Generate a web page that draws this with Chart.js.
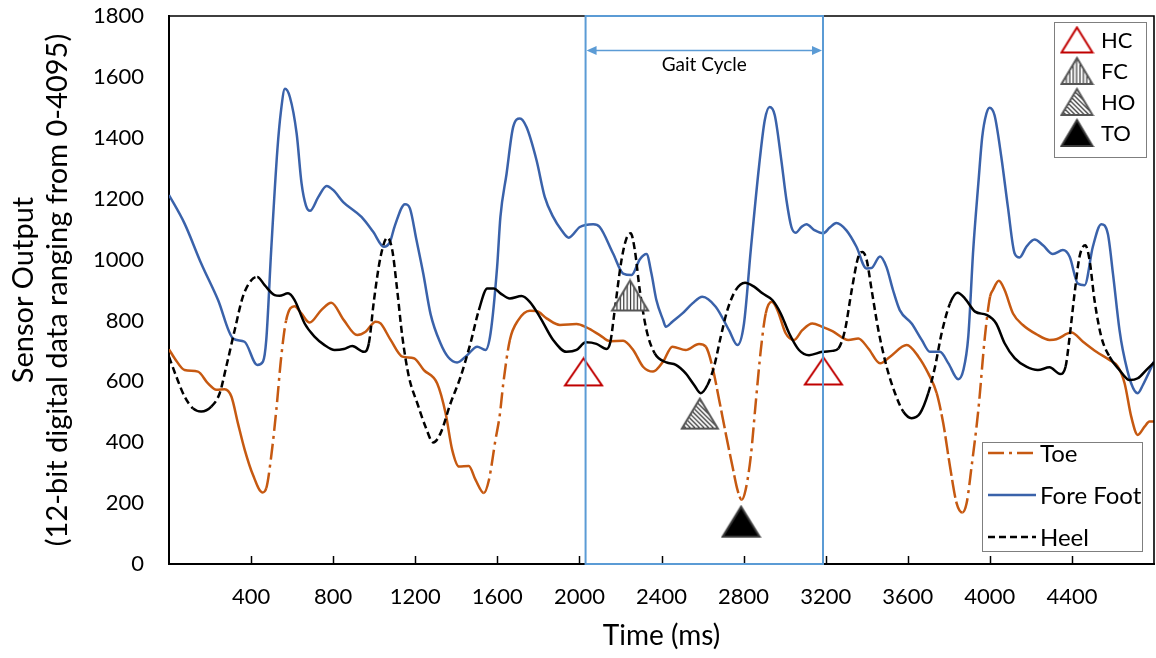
<!DOCTYPE html>
<html>
<head>
<meta charset="utf-8">
<script src="https://cdn.jsdelivr.net/npm/chart.js@4.4.1/dist/chart.umd.min.js"></script>
<style>
html, body { margin: 0; padding: 0; background: #fff; }
</style>
</head>
<body>
<canvas id="gait" width="1156" height="658"></canvas>
<script>
// ---- data (time in ms, sensor output 0-4095) ----
const toeTime = [0,28,76,141,190,231,271,304,336,369,409,455,474,498,523,547,571,612,645,685,742,791,852,917,958,1007,1031,1080,1137,1193,1242,1307,1348,1380,1413,1461,1494,1534,1559,1591,1612,1629,1661,1702,1758,1791,1840,1905,1986,2034,2099,2148,2213,2262,2310,2359,2408,2453,2518,2583,2616,2648,2681,2713,2746,2770,2791,2810,2835,2859,2884,2908,2937,2965,3005,3046,3086,3135,3184,3233,3311,3359,3408,3465,3514,3595,3652,3700,3741,3773,3806,3838,3866,3887,3911,3944,3976,4001,4015,4044,4072,4113,4161,4226,4291,4324,4397,4454,4519,4583,4624,4657,4689,4721,4754,4778,4800];
const toeValue = [705,675,637,632,593,572,574,550,462,375,293,235,249,353,506,681,801,847,823,793,834,858,801,752,763,796,790,736,681,676,637,593,495,375,320,322,276,233,276,408,490,593,736,801,832,831,807,785,788,777,752,732,733,703,648,632,665,714,703,723,714,648,539,429,320,244,211,244,353,528,703,823,861,834,758,736,768,790,779,765,736,741,708,659,681,719,681,626,561,462,320,200,169,200,320,506,747,878,900,930,900,823,785,755,736,738,760,730,697,670,648,593,484,424,451,468,468];

const foreTime = [0,76,157,239,312,368,430,458,474,498,528,546,565,589,622,646,667,687,728,768,801,849,938,995,1047,1077,1100,1150,1174,1206,1239,1275,1323,1360,1404,1453,1502,1542,1567,1599,1615,1645,1677,1710,1742,1791,1831,1872,1913,1948,2002,2067,2099,2164,2213,2254,2294,2327,2351,2375,2408,2421,2453,2502,2551,2599,2664,2729,2770,2802,2835,2875,2903,2927,2952,2984,3009,3033,3054,3082,3106,3147,3187,3220,3252,3301,3350,3398,3423,3465,3496,3528,3561,3619,3668,3708,3757,3798,3846,3871,3895,3919,3944,3963,3983,3999,4023,4056,4088,4121,4145,4178,4218,4259,4307,4356,4389,4429,4462,4502,4543,4575,4600,4632,4648,4689,4721,4746,4800];
const foreValue = [1212,1118,987,867,741,730,654,665,736,1031,1359,1490,1561,1534,1414,1250,1178,1160,1206,1242,1228,1189,1140,1091,1042,1058,1110,1182,1168,1064,954,820,725,680,662,686,714,703,758,976,1140,1282,1435,1463,1435,1326,1206,1140,1096,1072,1107,1116,1107,1020,954,949,1000,1018,954,867,801,779,796,823,856,878,845,768,719,790,1031,1304,1457,1501,1474,1326,1195,1107,1088,1107,1116,1096,1086,1105,1120,1096,1042,971,972,1010,976,900,834,790,736,697,697,659,607,637,747,1031,1250,1403,1479,1499,1474,1337,1173,1020,1007,1042,1066,1047,1018,1031,1009,921,916,1042,1116,1085,954,768,703,593,561,588,665];

const heelTime = [0,36,76,117,157,206,247,279,320,360,401,430,466,515,539,580,612,661,709,758,807,852,893,950,974,999,1031,1064,1088,1112,1137,1169,1210,1250,1288,1323,1372,1421,1469,1510,1551,1583,1615,1661,1718,1758,1807,1872,1937,1986,2031,2083,2132,2151,2172,2205,2229,2250,2270,2294,2327,2367,2424,2470,2518,2559,2591,2624,2656,2689,2721,2762,2807,2851,2892,2940,2981,3022,3070,3119,3184,3233,3262,3294,3327,3359,3379,3400,3424,3457,3497,3538,3578,3619,3660,3700,3733,3765,3806,3843,3879,3928,3984,4031,4072,4121,4178,4234,4291,4343,4369,4389,4413,4437,4465,4486,4510,4543,4583,4632,4681,4721,4762,4800];
const heelValue = [681,615,550,511,501,517,561,648,768,878,932,943,916,883,881,889,867,790,747,719,703,706,716,697,725,867,1009,1072,1031,900,747,615,528,451,399,429,528,615,725,834,905,905,889,872,880,861,812,736,697,703,728,723,706,730,834,998,1069,1086,1031,900,768,692,662,654,626,588,561,588,648,747,834,900,924,911,889,867,823,758,703,686,697,700,708,768,900,1009,1025,998,900,768,648,561,501,479,495,561,648,758,856,891,872,829,818,790,725,676,648,637,646,624,648,747,889,1009,1047,998,867,747,681,637,604,610,637,662];

// gait events
const hcTime = [2020, 3189];
const hcValue = [631, 634];
const fcTime = [2247];
const fcValue = [882];
const hoTime = [2587];
const hoValue = [494];
const toTime = [2788];
const toValue = [139];

// gait cycle window
const gaitStart = 2030;
const gaitEnd = 3187;

// parts of the traces drawn broken
const toeDashDot = [[474,575],[1540,1672],[2795,2915],[3870,3995]];
const toeLongDash = [[2630,2790],[3725,3866]];
const heelDashed = [[0,135],[215,420],[970,1530],[2150,2385],[2610,2775],[3262,3580],[3690,3815],[4365,4600]];

const ORANGE = '#C65911';
const BLUE = '#3A62AA';
const GAIT = '#5B9BD5';
const FONT = 'Lato';

function pts(t, v) { return t.map((x, i) => ({ x: x, y: v[i] })); }
function inRanges(r, t) { return r.some(a => t >= a[0] && t <= a[1]); }
function midT(ctx) { return (ctx.p0.parsed.x + ctx.p1.parsed.x) / 2; }

// triangle markers as little canvases
function marker(kind, w, h) {
  const c = document.createElement('canvas');
  c.width = w + 4; c.height = h + 4;
  const g = c.getContext('2d');
  const L = 2, R = w + 2, T = 2, B = h + 2, M = (w + 4) / 2;
  const tri = () => { g.beginPath(); g.moveTo(M, T); g.lineTo(R, B); g.lineTo(L, B); g.closePath(); };
  tri();
  if (kind === 'hc') {
    g.fillStyle = '#fff'; g.fill();
    g.strokeStyle = '#C00000'; g.lineWidth = 2; g.stroke();
  } else if (kind === 'to') {
    g.fillStyle = '#000'; g.fill();
    g.strokeStyle = '#3a3a3a'; g.lineWidth = 2; g.stroke();
  } else {
    g.fillStyle = '#fff'; g.fill();
    g.save(); g.clip();
    g.strokeStyle = '#222'; g.lineWidth = 1.1;
    if (kind === 'fc') {
      for (let x = L + 1.5; x < R; x += 3.4) { g.beginPath(); g.moveTo(x, T); g.lineTo(x, B); g.stroke(); }
    } else {
      for (let k = -h; k < w; k += 4.6) { g.beginPath(); g.moveTo(L + k, T); g.lineTo(L + k + h, B); g.stroke(); }
    }
    g.restore();
    tri(); g.strokeStyle = '#555'; g.lineWidth = 2; g.stroke();
  }
  return c;
}

const mHC = marker('hc', 37, 27), mFC = marker('fc', 36, 30), mHO = marker('ho', 36, 30), mTO = marker('to', 37, 30);
const lHC = marker('hc', 31, 25), lFC = marker('fc', 31, 26), lHO = marker('ho', 31, 26), lTO = marker('to', 31, 26);

const extras = {
  id: 'extras',
  afterDatasetsDraw(chart) {
    const ctx = chart.ctx, a = chart.chartArea, xs = chart.scales.x;
    ctx.save();
    // inside tick marks on the time axis
    ctx.strokeStyle = '#000'; ctx.lineWidth = 1.5;
    xs.ticks.forEach(t => {
      if (t.value <= 0 || t.value >= 4800) return;
      const px = Math.round(xs.getPixelForValue(t.value)) + 0.5;
      ctx.beginPath(); ctx.moveTo(px, a.bottom); ctx.lineTo(px, a.bottom - 8); ctx.stroke();
    });
    // top and right frame
    ctx.lineWidth = 1.6;
    ctx.beginPath(); ctx.moveTo(a.left, a.top); ctx.lineTo(a.right, a.top); ctx.lineTo(a.right, a.bottom); ctx.stroke();

    // gait cycle window
    const x0 = xs.getPixelForValue(gaitStart), x1 = xs.getPixelForValue(gaitEnd);
    ctx.strokeStyle = GAIT; ctx.lineWidth = 2;
    ctx.strokeRect(x0, a.top, x1 - x0, a.bottom - a.top);
    const ay = 50.5;
    ctx.lineWidth = 1.3;
    ctx.beginPath(); ctx.moveTo(x0 + 8, ay); ctx.lineTo(x1 - 8, ay); ctx.stroke();
    ctx.fillStyle = GAIT;
    ctx.beginPath(); ctx.moveTo(x0 + 1, ay); ctx.lineTo(x0 + 11, ay - 4.5); ctx.lineTo(x0 + 11, ay + 4.5); ctx.closePath(); ctx.fill();
    ctx.beginPath(); ctx.moveTo(x1 - 1, ay); ctx.lineTo(x1 - 11, ay - 4.5); ctx.lineTo(x1 - 11, ay + 4.5); ctx.closePath(); ctx.fill();
    ctx.fillStyle = '#000'; ctx.font = '19px ' + FONT; ctx.textAlign = 'center'; ctx.textBaseline = 'middle';
    ctx.fillText('Gait Cycle', (x0 + x1) / 2, 65);

    // event legend
    ctx.fillStyle = '#fff'; ctx.fillRect(1054, 22, 92, 135);
    ctx.strokeStyle = '#7f7f7f'; ctx.lineWidth = 1; ctx.strokeRect(1054.5, 22.5, 92, 135);
    ctx.font = '22px ' + FONT; ctx.textAlign = 'left'; ctx.fillStyle = '#000';
    [[lHC, 'HC', 40], [lFC, 'FC', 71], [lHO, 'HO', 102], [lTO, 'TO', 133]].forEach(e => {
      ctx.drawImage(e[0], 1077 - e[0].width / 2, e[2] - e[0].height / 2);
      ctx.fillText(e[1], 1101, e[2] + 1);
    });

    // sensor legend
    ctx.fillStyle = '#fff'; ctx.fillRect(982, 442, 160, 109);
    ctx.strokeStyle = '#7f7f7f'; ctx.lineWidth = 1; ctx.strokeRect(982.5, 442.5, 160, 109);
    ctx.font = '24px ' + FONT; ctx.fillStyle = '#000';
    [['Toe', ORANGE, [16, 5, 3, 5], 453], ['Fore Foot', BLUE, [], 495], ['Heel', '#000', [7, 4], 537]].forEach(e => {
      ctx.strokeStyle = e[1]; ctx.lineWidth = 2.5; ctx.setLineDash(e[2]);
      ctx.beginPath(); ctx.moveTo(988, e[3]); ctx.lineTo(1036, e[3]); ctx.stroke();
      ctx.setLineDash([]);
      ctx.fillText(e[0], 1040, e[3] + 1);
    });
    ctx.restore();
  }
};

const markerSet = (lbl, t, v, img) => ({
  label: lbl, data: pts(t, v), showLine: false, pointStyle: img, pointRadius: 10, order: 0
});

new Chart(document.getElementById('gait'), {
  type: 'line',
  data: {
    datasets: [
      markerSet('HC', hcTime, hcValue, mHC),
      markerSet('FC', fcTime, fcValue, mFC),
      markerSet('HO', hoTime, hoValue, mHO),
      markerSet('TO', toTime, toValue, mTO),
      {
        label: 'Heel', data: pts(heelTime, heelValue), borderColor: '#000', borderWidth: 2.5,
        pointRadius: 0, cubicInterpolationMode: 'monotone', order: 1,
        segment: { borderDash: c => inRanges(heelDashed, midT(c)) ? [7, 4] : undefined }
      },
      {
        label: 'Fore Foot', data: pts(foreTime, foreValue), borderColor: BLUE, borderWidth: 2.5,
        pointRadius: 0, cubicInterpolationMode: 'monotone', order: 2
      },
      {
        label: 'Toe', data: pts(toeTime, toeValue), borderColor: ORANGE, borderWidth: 2.5,
        pointRadius: 0, cubicInterpolationMode: 'monotone', order: 3,
        segment: {
          borderDash: c => {
            const t = midT(c);
            if (inRanges(toeDashDot, t)) return [16, 5, 3, 5];
            if (inRanges(toeLongDash, t)) return [18, 4];
            return undefined;
          }
        }
      }
    ]
  },
  options: {
    responsive: false,
    animation: false,
    events: [],
    devicePixelRatio: 1,
    layout: { autoPadding: false, padding: { left: 0, right: 2, top: 16, bottom: 3 } },
    plugins: { legend: { display: false }, tooltip: { enabled: false } },
    scales: {
      x: {
        type: 'linear', min: 0, max: 4800,
        grid: { display: false, drawTicks: false },
        border: { color: '#000', width: 2 },
        ticks: {
          stepSize: 400, padding: 20, color: '#000', font: { family: FONT, size: 22 },
          maxRotation: 0, autoSkip: false,
          callback: v => (v === 0 || v === 4800) ? '' : String(v)
        },
        title: { display: true, text: 'Time (ms)', color: '#000', font: { family: FONT, size: 28 }, padding: { top: 0, bottom: 2 } },
        afterFit: s => { s.height = 91; s.paddingLeft = 0; s.paddingRight = 0; }
      },
      y: {
        min: 0, max: 1800,
        grid: { display: false, drawTicks: false },
        border: { color: '#000', width: 2 },
        ticks: { stepSize: 200, padding: 25, color: '#000', font: { family: FONT, size: 22 }, callback: v => String(v) },
        title: {
          display: true, text: ['Sensor Output', '(12-bit digital data ranging from 0-4095)'],
          color: '#000', font: { family: FONT, size: 29, lineHeight: 1.17 }, padding: { top: 7, bottom: 0 }
        },
        afterFit: s => { s.width = 169; s.paddingTop = 0; s.paddingBottom = 0; }
      }
    }
  },
  plugins: [extras]
});
</script>
</body>
</html>
